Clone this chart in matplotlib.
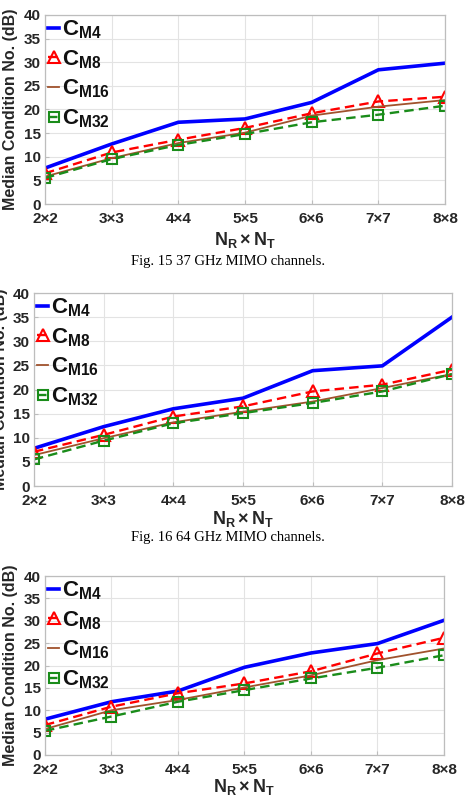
import matplotlib
matplotlib.use("Agg")
import matplotlib.pyplot as plt

plt.rcParams['font.family'] = ['Liberation Sans', 'DejaVu Sans']
plt.rcParams['font.weight'] = 'bold'
plt.rcParams['mathtext.fontset'] = 'custom'
plt.rcParams['mathtext.rm'] = 'Liberation Sans:bold'
plt.rcParams['mathtext.bf'] = 'Liberation Sans:bold'
plt.rcParams['mathtext.it'] = 'Liberation Sans:bold'

# ---- data ----
sizes = ['2\u00d72', '3\u00d73', '4\u00d74', '5\u00d75', '6\u00d76', '7\u00d77', '8\u00d78']
series_names = ['M4', 'M8', 'M16', 'M32']

# Fig. 15, 37 GHz
cm4_37 = [7.6, 12.7, 17.3, 18.0, 21.5, 28.4, 29.8]
cm8_37 = [6.5, 10.9, 13.6, 16.1, 19.2, 21.7, 22.7]
cm16_37 = [5.8, 9.7, 12.9, 15.1, 18.7, 20.6, 22.0]
cm32_37 = [5.5, 9.5, 12.5, 14.8, 17.3, 18.9, 20.8]

# Fig. 16, 64 GHz
cm4_64 = [7.8, 12.3, 16.0, 18.2, 23.9, 24.9, 35.0]
cm8_64 = [7.1, 10.6, 14.4, 16.5, 19.6, 21.0, 24.1]
cm16_64 = [6.4, 9.9, 13.2, 15.4, 17.5, 20.3, 23.2]
cm32_64 = [5.5, 9.4, 13.0, 15.1, 17.2, 19.6, 23.2]

# third panel
cm4_c = [8.0, 11.9, 14.3, 19.6, 22.8, 24.9, 30.1]
cm8_c = [6.7, 10.8, 13.8, 16.0, 18.7, 22.7, 26.2]
cm16_c = [5.8, 10.0, 12.3, 15.1, 17.8, 21.2, 23.8]
cm32_c = [5.4, 8.6, 11.9, 14.5, 17.1, 19.5, 22.3]

captions = ['Fig. 15 37 GHz MIMO channels.', 'Fig. 16 64 GHz MIMO channels.']

W, H = 466, 800
fig = plt.figure(figsize=(W / 100, H / 100), dpi=100)
fig.patch.set_facecolor('white')

def px_axes(left, right, top, bottom):
    return fig.add_axes([left / W, 1 - bottom / H, (right - left) / W, (bottom - top) / H])

def draw(ax, data, ylab_x, xlab_y):
    c4, c8, c16, c32 = data
    x = range(len(sizes))
    ax.plot(x, c4, color='#0000ff', lw=2.6, label=r'$\mathbf{C}_{\mathbf{M4}}$')
    ax.plot(x, c8, color='#ff0000', lw=1.7, ls=(0, (4, 2.2)), marker='^', ms=8,
            mfc='none', mec='#ff0000', mew=1.5, label=r'$\mathbf{C}_{\mathbf{M8}}$')
    ax.plot(x, c16, color='#a0522d', lw=1.3, label=r'$\mathbf{C}_{\mathbf{M16}}$')
    ax.plot(x, c32, color='#1a8c1a', lw=1.7, ls=(0, (4, 2.2)), marker='s', ms=7,
            mfc='none', mec='#1a8c1a', mew=1.5, label=r'$\mathbf{C}_{\mathbf{M32}}$')
    ax.set_xlim(0, len(sizes) - 1)
    ax.set_ylim(0, 40)
    ax.set_xticks(list(x))
    ax.set_xticklabels(sizes)
    ax.set_yticks(range(0, 41, 5))
    ax.grid(True, color='#e3e3e3', lw=0.8)
    ax.set_axisbelow(True)
    for s in ax.spines.values():
        s.set_color('#bdbdbd')
        s.set_linewidth(0.9)
    ax.tick_params(direction='in', length=3, color='#bdbdbd', labelsize=11,
                   labelcolor='#262626', pad=3)
    ax.tick_params(axis='x', pad=6)
    ax.set_ylabel('Median Condition No. (dB)', fontsize=11.5, fontweight='bold',
                  color='#262626')
    ax.yaxis.set_label_coords(ylab_x, 0.5)
    ax.set_xlabel(r'$\mathbf{N}_{\mathbf{R}}\times\mathbf{N}_{\mathbf{T}}$', fontsize=13,
                  color='#262626')
    ax.xaxis.set_label_coords(0.5, xlab_y)
    leg = ax.legend(loc='upper left', frameon=False, fontsize=16, handlelength=0.5,
                    handletextpad=0.1, labelspacing=0.32, borderaxespad=0.0,
                    borderpad=0.15, numpoints=1, markerscale=1.0)
    for t in leg.get_texts():
        t.set_color('#111111')

ax1 = px_axes(45, 445, 15, 204)
draw(ax1, (cm4_37, cm8_37, cm16_37, cm32_37), -0.068, -0.135)
fig.text(228 / W, 1 - 261 / H, captions[0], ha='center', va='center',
         family='Liberation Serif', fontweight='normal', fontsize=10.5)

ax2 = px_axes(34, 452, 293, 486)
draw(ax2, (cm4_64, cm8_64, cm16_64, cm32_64), -0.062, -0.118)
fig.text(228 / W, 1 - 538 / H, captions[1], ha='center', va='center',
         family='Liberation Serif', fontweight='normal', fontsize=10.5)

ax3 = px_axes(45, 444, 576, 755)
draw(ax3, (cm4_c, cm8_c, cm16_c, cm32_c), -0.068, -0.125)

fig.savefig('out.png', dpi=100)
